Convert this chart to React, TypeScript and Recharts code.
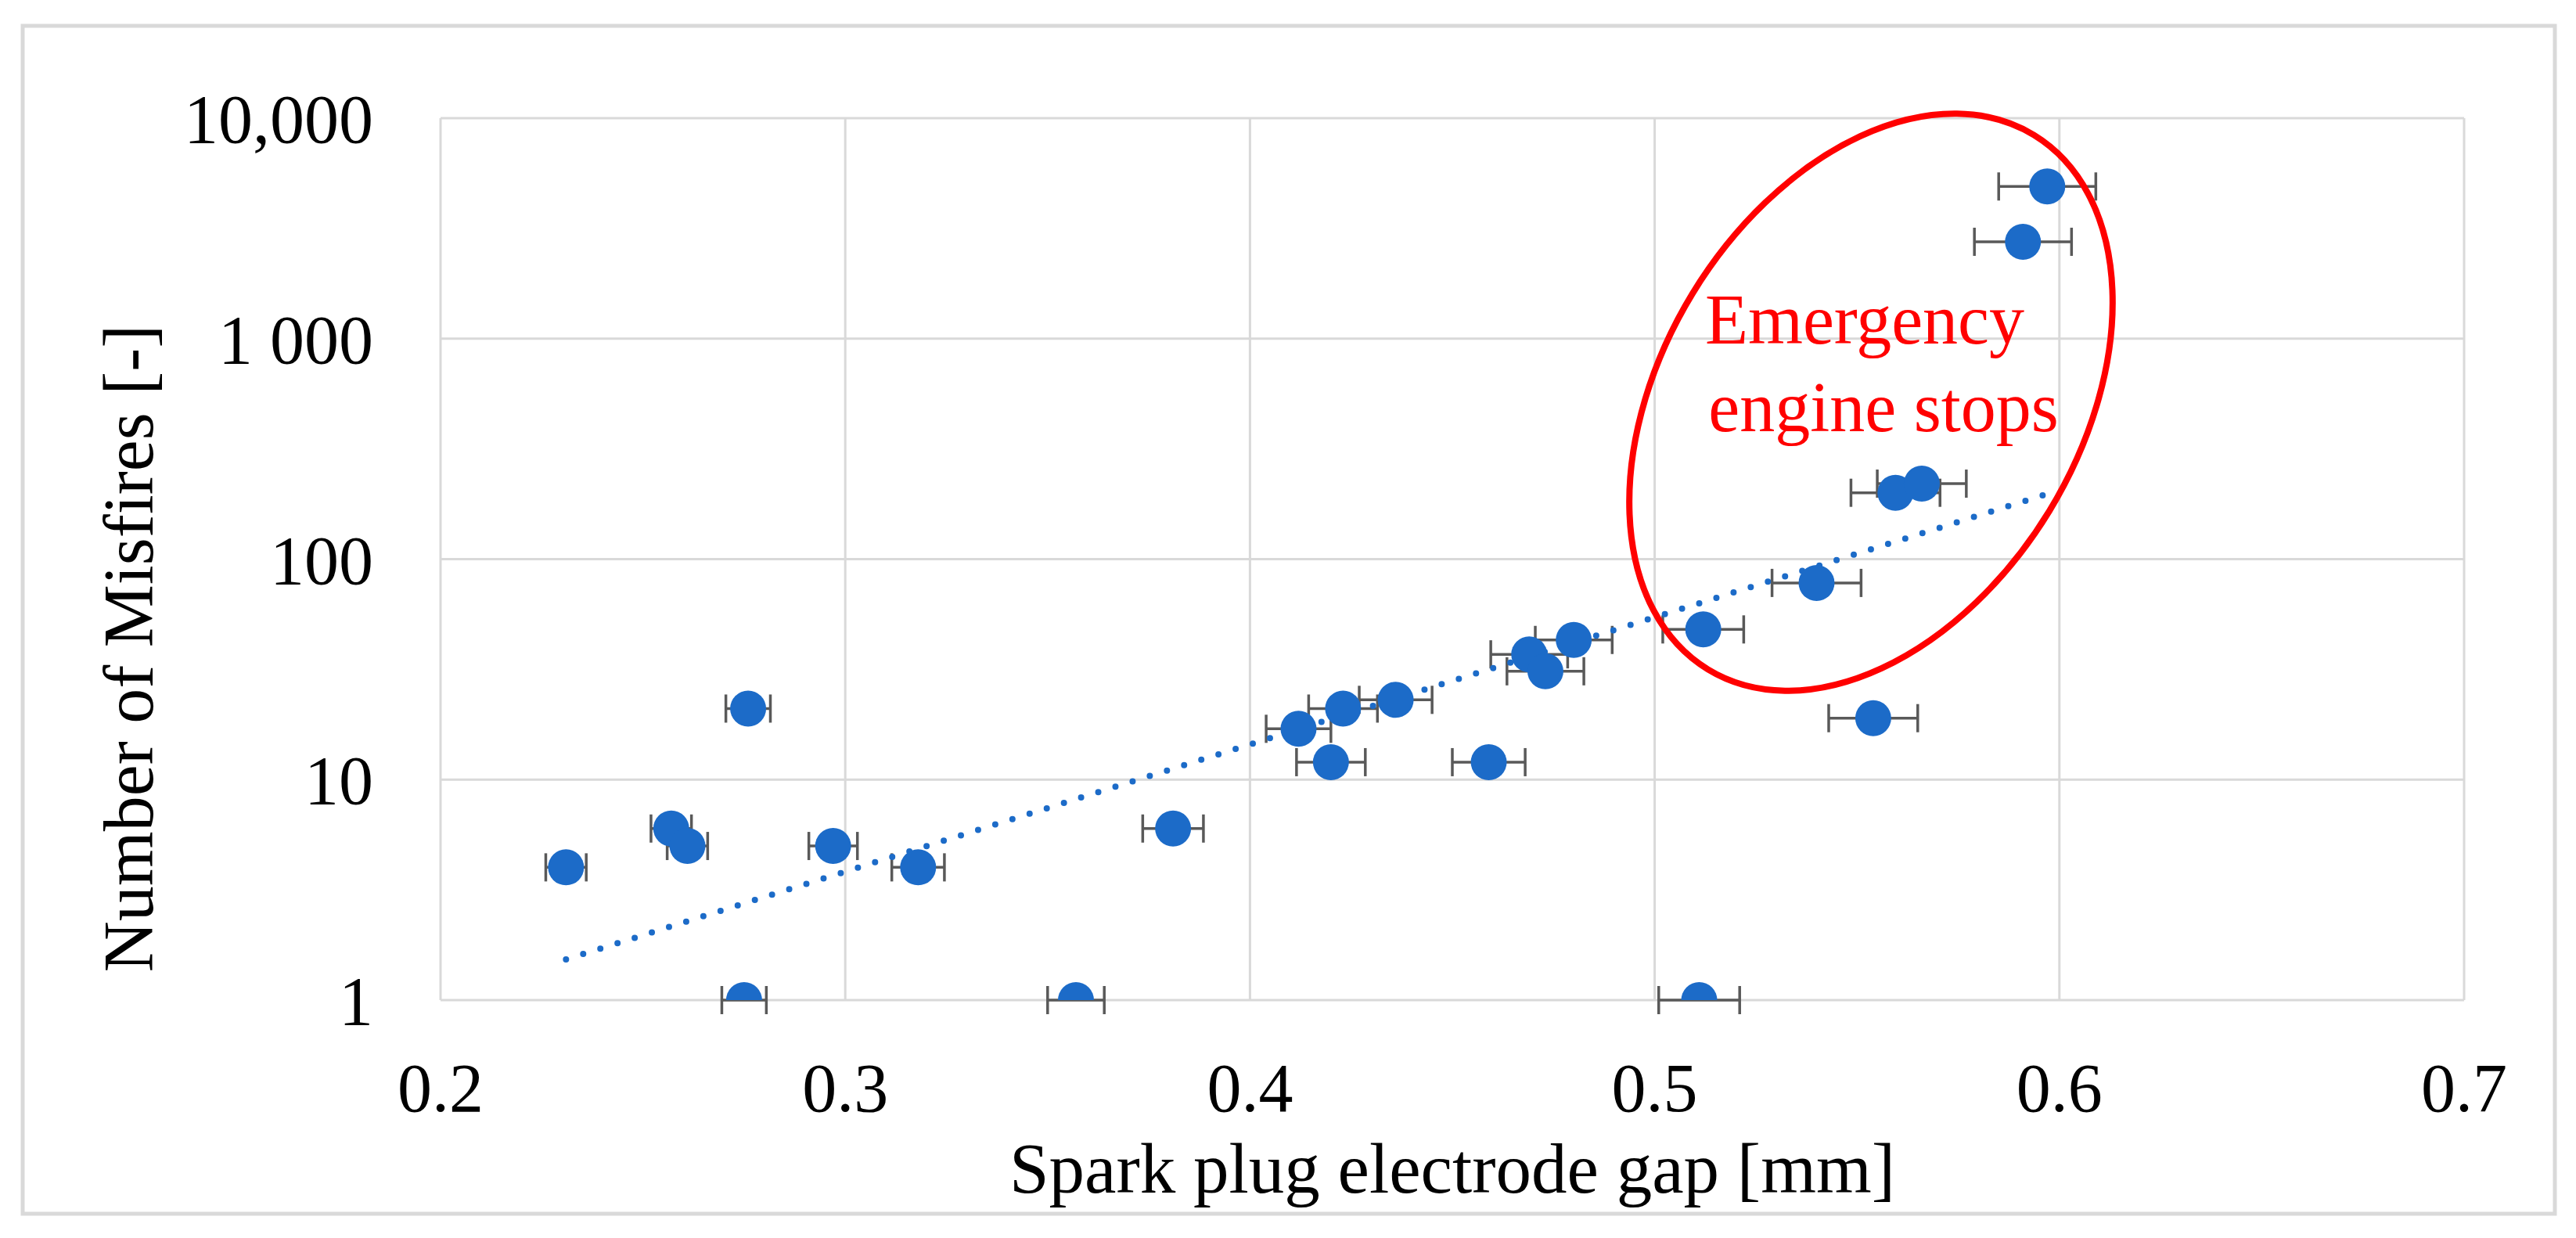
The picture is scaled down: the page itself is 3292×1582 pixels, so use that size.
import React from "react";
import { ScatterChart, Scatter, XAxis, YAxis, CartesianGrid, ErrorBar, Label } from "recharts";

// measured spark plug gaps [mm] and misfire counts, one entry per plug
const gap = [
  0.231, 0.257, 0.261, 0.276, 0.275, 0.297, 0.318, 0.357, 0.381, 0.412, 0.42, 0.423, 0.436,
  0.459, 0.469, 0.473, 0.48, 0.512, 0.511, 0.54, 0.554, 0.5595, 0.566, 0.591, 0.597,
];
const misfires = [4, 6, 5, 21, 1, 5, 4, 1, 6, 17, 12, 21, 23, 12, 37, 31, 43, 48, 1, 78, 19, 200, 220, 2750, 4900];
const gapError = [
  0.005, 0.005, 0.005, 0.0055, 0.0055, 0.006, 0.0065, 0.007, 0.0075, 0.008, 0.0085, 0.0085, 0.009,
  0.009, 0.0095, 0.0095, 0.0095, 0.01, 0.01, 0.011, 0.011, 0.011, 0.011, 0.012, 0.012,
];

// exponential trendline (straight on the log axis), read at its two ends
const trendGap = [0.231, 0.596];
const trendMisfires = [1.53, 195];

const xTicks = [0.2, 0.3, 0.4, 0.5, 0.6, 0.7];
const yTicks = [1, 10, 100, 1000, 10000];
const yTickLabels = ["1", "10", "100", "1\u00a0000", "10,000"];

const points = gap.map((x, i) => ({ x, y: misfires[i], err: gapError[i] }));
const trend = trendGap.map((x, i) => ({ x, y: trendMisfires[i] }));

const W = 3292;
const H = 1582;
const FONT = "'Liberation Serif', 'Times New Roman', serif";
const BLUE = "#1c6bc8";
const GRID = "#d9d9d9";

const Dot = (p: any) => <circle cx={p.cx} cy={p.cy} r={23} fill={BLUE} />;
const NoDot = () => <g />;

const XTitle = ({ viewBox }: any) => (
  <text
    x={viewBox.x + viewBox.width / 2}
    y={viewBox.y + 246}
    textAnchor="middle"
    fontFamily={FONT}
    fontSize={91}
    fill="#000"
  >
    Spark plug electrode gap [mm]
  </text>
);

const YTitle = ({ viewBox }: any) => {
  const cx = 195;
  const cy = viewBox.y + viewBox.height / 2 + 114;
  return (
    <text
      x={cx}
      y={cy}
      transform={`rotate(-90, ${cx}, ${cy})`}
      textAnchor="middle"
      fontFamily={FONT}
      fontSize={90}
      fill="#000"
    >
      Number of Misfires [-]
    </text>
  );
};

export default function App() {
  return (
    <div style={{ position: "fixed", left: 0, top: 0, width: W, height: H, background: "#fff" }}>
      <ScatterChart width={W} height={H} margin={{ top: 151, right: 143, bottom: 0, left: 0 }}>
        <CartesianGrid stroke={GRID} strokeWidth={3} />
        <XAxis
          type="number"
          dataKey="x"
          domain={[0.2, 0.7]}
          ticks={xTicks}
          interval={0}
          allowDataOverflow
          axisLine={false}
          tickLine={false}
          tickSize={0}
          tickMargin={80}
          height={304}
          tick={{ fontSize: 88, fill: "#000", fontFamily: FONT }}
          tickFormatter={(v: number) => v.toFixed(1)}
        >
          <Label content={XTitle} />
        </XAxis>
        <YAxis
          type="number"
          dataKey="y"
          scale="log"
          domain={[1, 10000]}
          ticks={yTicks}
          interval={0}
          allowDataOverflow
          axisLine={false}
          tickLine={false}
          tickSize={0}
          tickMargin={86}
          width={563}
          tick={{ fontSize: 88, fill: "#000", fontFamily: FONT }}
          tickFormatter={(v: number) => yTickLabels[yTicks.indexOf(v)] ?? String(v)}
        >
          <Label content={YTitle} />
        </YAxis>
        <Scatter
          data={trend}
          line={{ stroke: BLUE, strokeWidth: 8, strokeDasharray: "0 23", strokeLinecap: "round" }}
          shape={NoDot}
          isAnimationActive={false}
        />
        <Scatter data={points} shape={Dot} fill={BLUE} isAnimationActive={false}>
          <ErrorBar dataKey="err" direction="x" width={18} stroke="#595959" strokeWidth={3.5} />
        </Scatter>
      </ScatterChart>
      <svg
        width={W}
        height={H}
        style={{ position: "absolute", left: 0, top: 0, pointerEvents: "none" }}
      >
        <rect x={29} y={33} width={3236} height={1518} fill="none" stroke={GRID} strokeWidth={5} />
        <ellipse
          cx={2391}
          cy={514}
          rx={400}
          ry={267}
          transform="rotate(-58.6, 2391, 514)"
          fill="none"
          stroke="#ff0000"
          strokeWidth={8}
        />
        <text x={2383} y={439} textAnchor="middle" fontFamily={FONT} fontSize={90} fill="#ff0000">
          Emergency
        </text>
        <text x={2407} y={551} textAnchor="middle" fontFamily={FONT} fontSize={90} fill="#ff0000">
          engine stops
        </text>
      </svg>
    </div>
  );
}
